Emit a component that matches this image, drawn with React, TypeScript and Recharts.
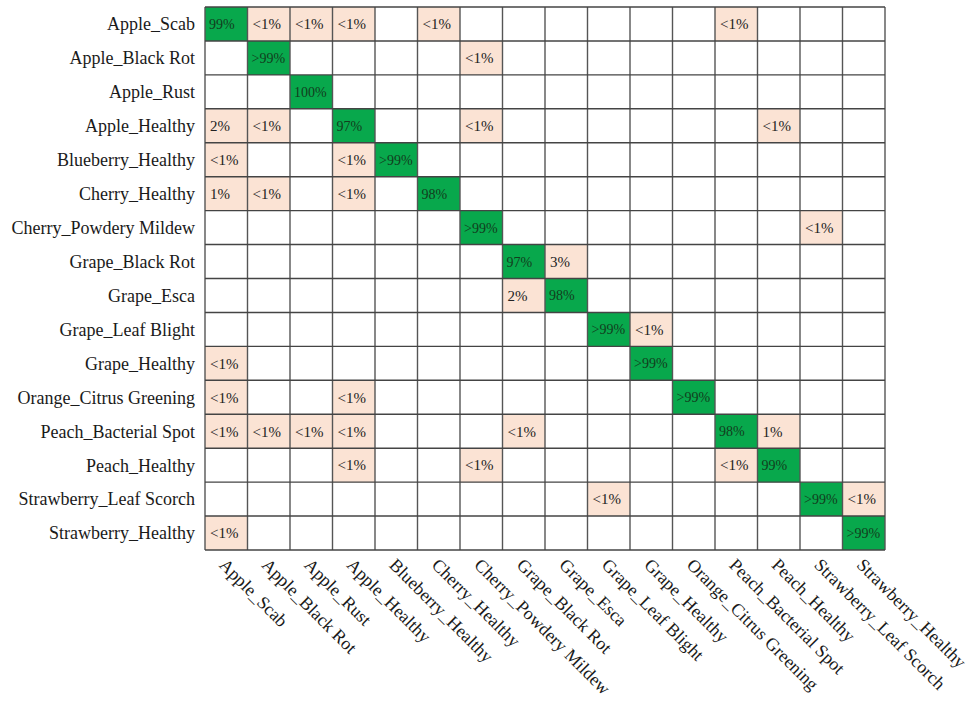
import {
  ScatterChart,
  Scatter,
  XAxis,
  YAxis,
  ReferenceArea,
  ReferenceLine,
} from "recharts";

// class names, same order for actual (rows) and predicted (columns)
const classNames = [
  "Apple_Scab",
  "Apple_Black Rot",
  "Apple_Rust",
  "Apple_Healthy",
  "Blueberry_Healthy",
  "Cherry_Healthy",
  "Cherry_Powdery Mildew",
  "Grape_Black Rot",
  "Grape_Esca",
  "Grape_Leaf Blight",
  "Grape_Healthy",
  "Orange_Citrus Greening",
  "Peach_Bacterial Spot",
  "Peach_Healthy",
  "Strawberry_Leaf Scorch",
  "Strawberry_Healthy",
];

// correct predictions (diagonal)
const diagonalLabels = [
  "99%", ">99%", "100%", "97%", ">99%", "98%", ">99%", "97%",
  "98%", ">99%", ">99%", ">99%", "98%", "99%", ">99%", ">99%",
];

// misclassifications: actual row, predicted column, share
const missActual = [0, 0, 0, 0, 0, 1, 3, 3, 3, 3, 4, 4, 5, 5, 5, 6, 7, 8, 9, 10, 11, 11, 12, 12, 12, 12, 12, 12, 13, 13, 13, 14, 14, 15];
const missPredicted = [1, 2, 3, 5, 12, 6, 0, 1, 6, 13, 0, 3, 0, 1, 3, 14, 8, 7, 10, 0, 0, 3, 0, 1, 2, 3, 7, 13, 3, 6, 12, 9, 15, 0];
const missLabels = [
  "<1%", "<1%", "<1%", "<1%", "<1%", "<1%", "2%", "<1%", "<1%", "<1%",
  "<1%", "<1%", "1%", "<1%", "<1%", "<1%", "3%", "2%", "<1%", "<1%",
  "<1%", "<1%", "<1%", "<1%", "<1%", "<1%", "<1%", "1%", "<1%", "<1%",
  "<1%", "<1%", "<1%", "<1%",
];

const FONT = "'Liberation Serif', 'Times New Roman', serif";
const GREEN = "#08a84c";
const PINK = "#fbe3d4";

const centerTicks = classNames.map((_, i) => i + 0.5);
const boundaries = Array.from({ length: classNames.length + 1 }, (_, i) => i);

// anchor points so the chart has data to lay out its axes
const cellPoints = [
  ...diagonalLabels.map((_, i) => ({ x: i + 0.5, y: i + 0.5 })),
  ...missLabels.map((_, i) => ({ x: missPredicted[i] + 0.5, y: missActual[i] + 0.5 })),
];

const XTick = (props: any) => {
  const { x, y, payload } = props;
  const name = classNames[Math.floor(payload.value)];
  const ax = x - 8;
  const ay = y + 14;
  return (
    <text
      x={ax}
      y={ay}
      transform={`rotate(45, ${ax}, ${ay})`}
      textAnchor="start"
      fontFamily={FONT}
      fontSize={18}
      fill="#1a1a1a"
    >
      {name}
    </text>
  );
};

export default function App() {
  return (
    <div style={{ position: "absolute", left: 0, top: 0, background: "#fff" }}>
      <ScatterChart
        width={971}
        height={709}
        margin={{ top: 7, right: 86, bottom: 9, left: 5 }}
      >
        <XAxis
          type="number"
          dataKey="x"
          domain={[0, 16]}
          allowDataOverflow
          ticks={centerTicks}
          interval={0}
          axisLine={false}
          tickLine={false}
          tickSize={0}
          height={150}
          tick={<XTick />}
        />
        <YAxis
          type="number"
          dataKey="y"
          domain={[0, 16]}
          allowDataOverflow
          reversed
          ticks={centerTicks}
          interval={0}
          axisLine={false}
          tickLine={false}
          tickSize={0}
          tickMargin={10}
          width={200}
          tickFormatter={(v: number) => classNames[Math.floor(v)]}
          tick={{ fill: "#1a1a1a", fontSize: 18, fontFamily: FONT }}
        />

        {/* diagonal cells */}
        {diagonalLabels.map((label, i) => (
          <ReferenceArea
            key={`d${i}`}
            x1={i}
            x2={i + 1}
            y1={i}
            y2={i + 1}
            fill={GREEN}
            fillOpacity={1}
            stroke="none"
            ifOverflow="visible"
            label={{
              value: label,
              position: "insideLeft",
              offset: 4,
              fill: "#123d1d",
              fontSize: 14,
              fontFamily: FONT,
            }}
          />
        ))}

        {/* off-diagonal cells */}
        {missLabels.map((label, i) => (
          <ReferenceArea
            key={`m${i}`}
            x1={missPredicted[i]}
            x2={missPredicted[i] + 1}
            y1={missActual[i]}
            y2={missActual[i] + 1}
            fill={PINK}
            fillOpacity={1}
            stroke="none"
            ifOverflow="visible"
            label={{
              value: label,
              position: "insideLeft",
              offset: 5,
              fill: "#222",
              fontSize: 15,
              fontFamily: FONT,
            }}
          />
        ))}

        {/* table grid */}
        {boundaries.map((b) => (
          <ReferenceLine
            key={`v${b}`}
            x={b}
            stroke="#555"
            strokeWidth={1.4}
            ifOverflow="visible"
          />
        ))}
        {boundaries.map((b) => (
          <ReferenceLine
            key={`h${b}`}
            y={b}
            stroke="#444"
            strokeWidth={1.4}
            ifOverflow="visible"
          />
        ))}

        <Scatter
          data={cellPoints}
          isAnimationActive={false}
          shape={() => <g />}
        />
      </ScatterChart>
    </div>
  );
}
